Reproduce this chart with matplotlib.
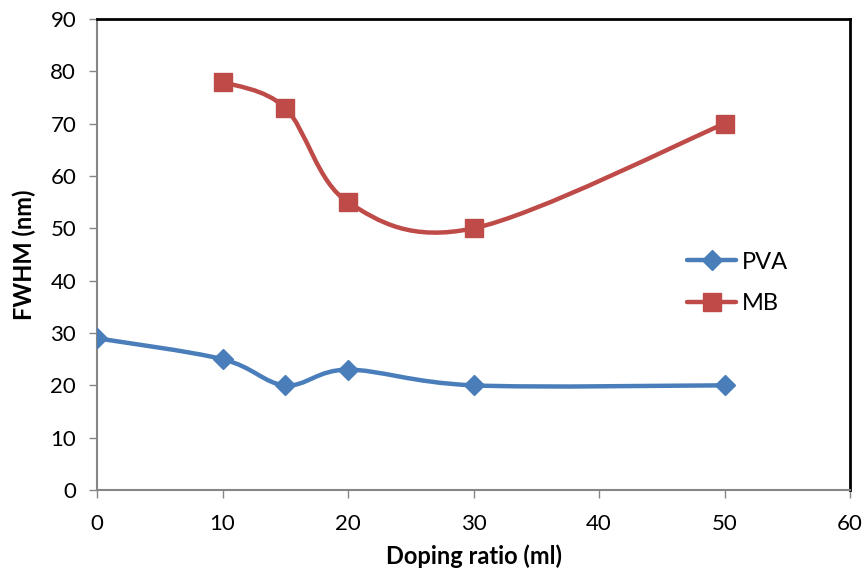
import numpy as np
import matplotlib
matplotlib.use("Agg")
from matplotlib import pyplot as plt
from matplotlib.path import Path
from matplotlib.patches import PathPatch
from matplotlib.lines import Line2D

plt.rcParams["font.family"] = ["Lato", "DejaVu Sans"]

pva_x = [0, 10, 15, 20, 30, 50]
pva_y = [29, 25, 20, 23, 20, 20]

mb_x = [10, 15, 20, 30, 50]
mb_y = [78, 73, 55, 50, 70]

blue = "#4A7EBB"
red = "#BE4B48"


def smooth_path(xs, ys):
    # excel-like smoothed line: cubic bezier through every point
    p = np.column_stack([xs, ys]).astype(float)
    n = len(p)
    verts = [p[0]]
    codes = [Path.MOVETO]
    for i in range(n - 1):
        p0 = p[i - 1] if i > 0 else p[i]
        p3 = p[i + 2] if i + 2 < n else p[i + 1]
        c1 = p[i] + (p[i + 1] - p0) / 6
        c2 = p[i + 1] - (p3 - p[i]) / 6
        verts += [c1, c2, p[i + 1]]
        codes += [Path.CURVE4] * 3
    return Path(verts, codes)


fig = plt.figure(figsize=(8.64, 5.81), dpi=100)
ax = fig.add_axes([0.1123, 0.1566, 0.8715, 0.8107])

for xs, ys, c, m, ms in [(pva_x, pva_y, blue, "D", 10), (mb_x, mb_y, red, "s", 13)]:
    ax.add_patch(PathPatch(smooth_path(xs, ys), facecolor="none", edgecolor=c,
                           lw=3.2, capstyle="round", zorder=2))
    ax.plot(xs, ys, linestyle="none", marker=m, markersize=ms, color=c, zorder=3)

ax.set_xlim(0, 60)
ax.set_ylim(0, 90)
ax.set_xticks(range(0, 61, 10))
ax.set_yticks(range(0, 91, 10))

for s in ["top", "right"]:
    ax.spines[s].set_color("black")
    ax.spines[s].set_linewidth(2)
for s in ["left", "bottom"]:
    ax.spines[s].set_color("#868686")
    ax.spines[s].set_linewidth(1.5)

ax.tick_params(direction="out", length=6, width=1, color="#868686", labelsize=16)
ax.tick_params(axis="y", pad=9)
ax.tick_params(axis="x", pad=11)

ax.set_xlabel("Doping ratio (ml)", fontsize=17, fontweight="bold", labelpad=8)
ax.set_ylabel("FWHM (nm)", fontsize=17, fontweight="bold", labelpad=10)

handles = [Line2D([], [], color=blue, lw=3.2, marker="D", markersize=10, solid_capstyle="round"),
           Line2D([], [], color=red, lw=3.2, marker="s", markersize=13, solid_capstyle="round")]
ax.legend(handles, ["PVA", "MB"], loc="center left", bbox_to_anchor=(0.755, 0.44),
          frameon=False, fontsize=17, handlelength=2.1, handletextpad=0.25, labelspacing=0.85)

plt.savefig("out.png", dpi=100)
